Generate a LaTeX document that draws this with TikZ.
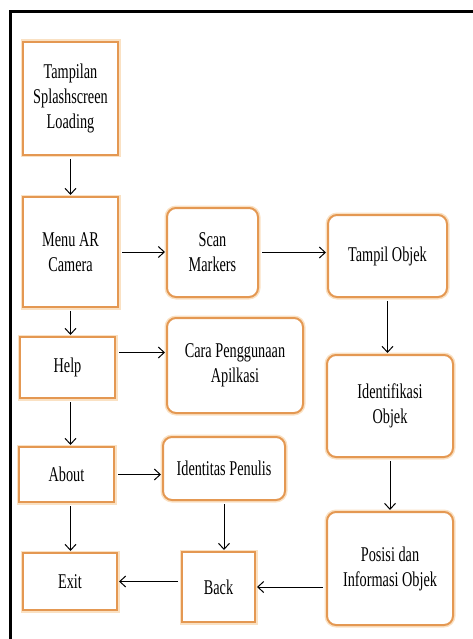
\documentclass[tikz,border=0pt]{standalone}
\usepackage{fontspec}
\setmainfont[FakeStretch=0.68]{Liberation Serif}
\usetikzlibrary{positioning,arrows.meta}
\definecolor{boxorange}{RGB}{228,152,82}
\definecolor{glow}{RGB}{250,225,195}
\begin{document}
\begin{tikzpicture}[x=1pt,y=-1pt,
  menubox/.style={draw=boxorange,line width=2pt,preaction={draw=glow,line width=5pt},fill=white,
    align=center,inner sep=2pt,font=\fontsize{21}{25}\selectfont},
  roundbox/.style={menubox,rounded corners=9pt},
  flow/.style={-{Straight Barb[length=6pt,width=11pt]},line width=1pt,shorten <=3pt,shorten >=1pt}]
  \useasboundingbox (0,0) rectangle (473,639);
  \draw[line width=3pt] (10,639) -- (10,12) -- (473,12);
  % left column
  \node[menubox,minimum width=95pt,minimum height=113pt](splash) at (70.5,98.5){Tampilan\\Splashscreen\\Loading};
  \node[menubox,minimum width=95pt,minimum height=110pt](menu) at (70.5,252){Menu AR\\Camera};
  \node[menubox,minimum width=95pt,minimum height=61pt](help) at (67.5,367.5){Help};
  \node[menubox,minimum width=95pt,minimum height=55pt](about) at (66.5,474.5){About};
  \node[menubox,minimum width=94pt,minimum height=57pt](exit) at (70,581.5){Exit};
  % middle column
  \node[roundbox,minimum width=91pt,minimum height=89pt](scan) at (212.5,252.5){Scan\\Markers};
  \node[roundbox,minimum width=136pt,minimum height=95pt](cara) at (235,365.5){Cara Penggunaan\\Apilkasi};
  \node[roundbox,minimum width=122pt,minimum height=63pt](identitas) at (224,468.5){Identitas Penulis};
  \node[menubox,minimum width=73pt,minimum height=70pt](back) at (218.5,587){Back};
  % right column
  \node[roundbox,minimum width=119pt,minimum height=82pt](tampil) at (387.5,256){Tampil Objek};
  \node[roundbox,minimum width=126pt,minimum height=102pt](ident) at (390,406){Identifikasi\\Objek};
  \node[roundbox,minimum width=126pt,minimum height=113pt](posisi) at (390,568.5){Posisi dan\\Informasi Objek};
  % arrows
  \draw[flow] (splash) -- (splash |- menu.north);
  \draw[flow] (menu) -- (menu -| scan.west);
  \draw[flow] (scan) -- (scan -| tampil.west);
  \draw[flow] (tampil) -- (tampil |- ident.north);
  \draw[flow] (ident) -- (ident |- posisi.north);
  \draw[flow] (posisi.west |- back) -- (back);
  \draw[flow] (back.west |- exit) -- (exit);
  \draw[flow] (identitas) -- (identitas |- back.north);
  \draw[flow] (menu) -- (menu |- help.north);
  \draw[flow] (help.south -| menu) -- (menu |- about.north);
  \draw[flow] (about.south -| menu) -- (menu |- exit.north);
  \draw[flow] ([yshift=15pt]help.east) -- ([yshift=15pt]help.east -| cara.west);
  \draw[flow] (about) -- (about -| identitas.west);
\end{tikzpicture}
\end{document}
